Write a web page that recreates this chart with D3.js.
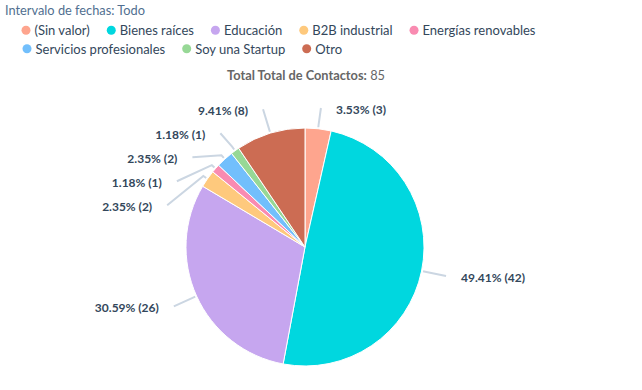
<!DOCTYPE html>
<html>
<head>
<meta charset="utf-8">
<script src="https://cdn.jsdelivr.net/npm/d3@7"></script>
<style>
  html, body { margin: 0; padding: 0; background: #fff; }
  svg { display: block; font-family: Lato, "Open Sans", sans-serif; }
</style>
</head>
<body>
<svg id="chart" width="642" height="390"></svg>
<script>
const filterTitle = "Intervalo de fechas: Todo";
const chartTitleBold = "Total Total de Contactos:";
const chartTitleValue = "85";
const categories = ["(Sin valor)", "Bienes raíces", "Educación", "B2B industrial", "Energías renovables", "Servicios profesionales", "Soy una Startup", "Otro"];
const values = [3, 42, 26, 2, 1, 2, 1, 8];
const colors = ["#fea58e", "#00d7df", "#c6a6ef", "#fec97d", "#f98bb1", "#72bffc", "#97d896", "#cc6c53"];

const svg = d3.select("#chart");
const W = 642, H = 390;

// Filter title
svg.append("text").attr("x", 5).attr("y", 15)
  .attr("font-size", 12.8).attr("fill", "#516f90").text(filterTitle);

// Legend
const legend = svg.append("g");
let lx = 26, ly = 35;
const rowH = 18.5, maxX = 600;
categories.forEach((c, i) => {
  const g = legend.append("g");
  const t = g.append("text").attr("font-size", 13).attr("fill", "#33475b").text(c);
  const w = t.node().getComputedTextLength();
  if (lx + 9 + w > maxX && i > 0) { lx = 27; ly += rowH; }
  g.append("circle").attr("cx", lx).attr("cy", ly - 4.7).attr("r", 4.5).attr("fill", colors[i]);
  t.attr("x", lx + 8.5).attr("y", ly);
  lx = lx + 8.5 + w + 21.5;
});

// Chart title
const tt = svg.append("text").attr("x", 306).attr("y", 80).attr("text-anchor", "middle")
  .attr("font-size", 12.8).attr("fill", "#666666");
tt.append("tspan").attr("font-weight", "bold").text(chartTitleBold);
tt.append("tspan").text(" " + chartTitleValue);

// Pie
const cx = 305, cy = 247, r = 119;
const total = d3.sum(values);
const data = categories.map((c, i) => ({ name: c, value: values[i], color: colors[i] }));
const pie = d3.pie().sort(null).value(d => d.value).startAngle(0).endAngle(2 * Math.PI);
const arcs = pie(data);
const arc = d3.arc().innerRadius(0).outerRadius(r);

const g = svg.append("g").attr("transform", `translate(${cx},${cy})`);
g.selectAll("path.slice").data(arcs).enter().append("path")
  .attr("class", "slice")
  .attr("d", arc)
  .attr("fill", d => d.data.color)
  .attr("stroke", "#ffffff").attr("stroke-width", 1).attr("stroke-linejoin", "round");

// Labels
const R = 144, spacing = 24, minY = 108;
const pt = (a, rad) => [cx + rad * Math.sin(a), cy - rad * Math.cos(a)];
const labels = arcs.map(d => {
  const a = (d.startAngle + d.endAngle) / 2;
  const [nx, ny] = pt(a, R);
  return { d, a, nx, ny, left: a > Math.PI, y: ny };
});
[true, false].forEach(side => {
  const list = labels.filter(l => l.left === side).sort((p, q) => p.ny - q.ny);
  let prev = -Infinity;
  list.forEach(l => {
    l.y = Math.max(l.ny, prev + spacing, minY);
    prev = l.y;
  });
});
labels.forEach(l => {
  if (Math.abs(l.y - l.ny) < 5) l.x = l.nx;
  else {
    const dy = l.y - cy;
    const dx = Math.sqrt(Math.max(0, R * R - dy * dy));
    l.x = cx + (l.left ? -dx : dx);
  }
});

const lg = svg.append("g");
labels.forEach(l => {
  const p0 = pt(l.a, r + 1.5), p1 = pt(l.a, r + 5);
  lg.append("path")
    .attr("d", d3.line()([p0, p1, [l.x, l.y]]))
    .attr("fill", "none").attr("stroke", "#cbd6e2").attr("stroke-width", 2);
  const pct = (l.d.data.value / total * 100).toFixed(2) + "% (" + l.d.data.value + ")";
  lg.append("text")
    .attr("x", l.left ? l.x - 15 : l.x + 15)
    .attr("y", l.y + 6)
    .attr("text-anchor", l.left ? "end" : "start")
    .attr("font-size", 12).attr("font-weight", "bold").attr("fill", "#33475b")
    .text(pct);
});
</script>
</body>
</html>
